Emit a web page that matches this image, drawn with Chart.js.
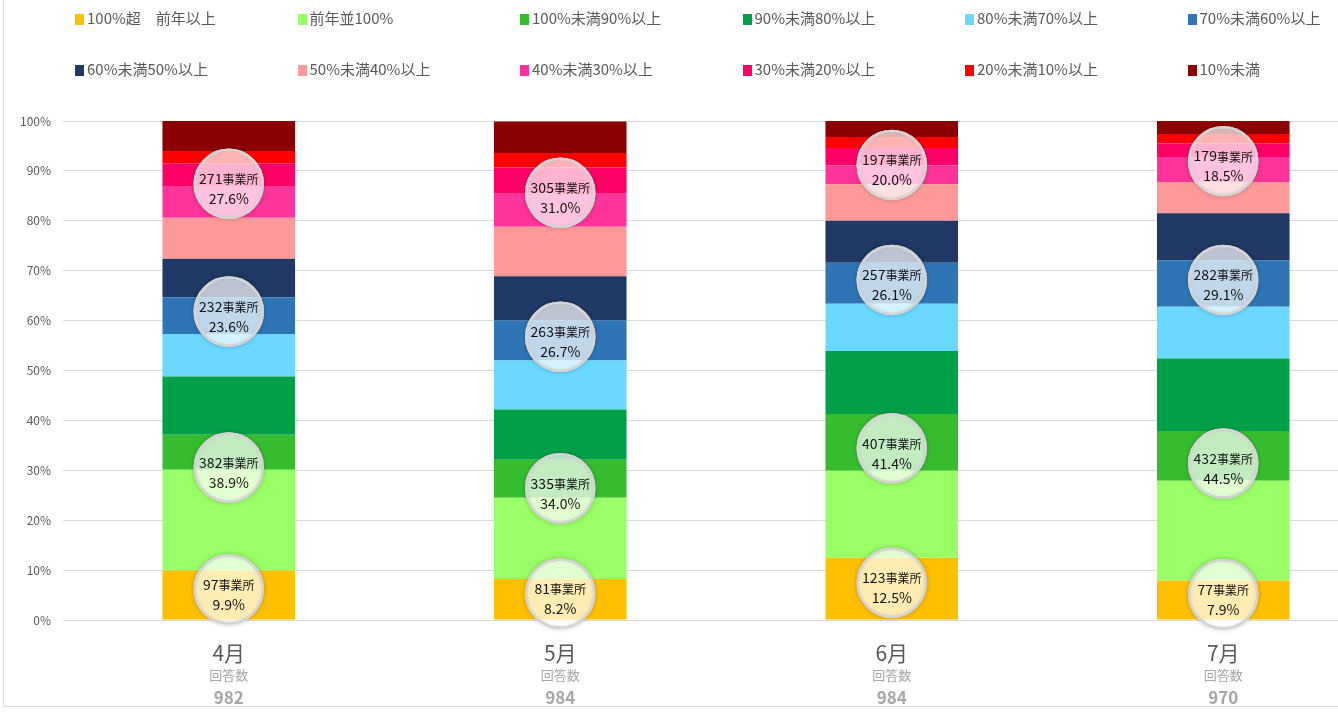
<!DOCTYPE html>
<html>
<head>
<meta charset="utf-8">
<script src="https://cdn.jsdelivr.net/npm/chart.js@4"></script>
<style>
  html, body { margin: 0; padding: 0; background: #fff; overflow: hidden; width: 1338px; height: 712px; }
  #frame { position: absolute; left: 3px; top: -1px; width: 1400px; height: 707px;
           border-left: 1px solid #d9d9d9; border-bottom: 1px solid #d9d9d9; }
  #wrap { position: absolute; left: 0; top: 0; width: 1400px; height: 712px; }
  #legend { position: absolute; left: 0; top: 0; width: 1338px; height: 100px;
            font-family: "Noto Sans CJK JP", "Noto Sans", sans-serif; font-size: 15px; color: #595959; }
  .item { position: absolute; white-space: nowrap; line-height: 20px; }
  .item span { display: inline-block; width: 9px; height: 11px; margin-right: 3px; vertical-align: -1px; }
</style>
</head>
<body>
<div id="frame"></div>
<div id="wrap"><canvas id="greatChart"></canvas></div>
<div id="legend"></div>
<script>
// categories and answer counts
const months = ['4月', '5月', '6月', '7月'];
const respondents = [982, 984, 984, 970];

// series (share of offices, %)
const seriesNames = [
    '100%超\u3000前年以上', '前年並100%', '100%未満90%以上', '90%未満80%以上',
    '80%未満70%以上', '70%未満60%以上', '60%未満50%以上', '50%未満40%以上',
    '40%未満30%以上', '30%未満20%以上', '20%未満10%以上', '10%未満'
];
const seriesColors = [
    '#FFC000', '#99FF66', '#36BD2F', '#00A048', '#6BD8FF', '#2E75B6',
    '#1F3864', '#FF9999', '#FF3399', '#FF0066', '#FF0000', '#8B0000'
];
const over100 = [9.9, 8.2, 12.5, 7.9];
const flat100 = [20.2, 16.3, 17.4, 20.0];
const pct90to100 = [7.0, 7.6, 11.4, 10.0];
const pct80to90 = [11.7, 10.1, 12.6, 14.5];
const pct70to80 = [8.5, 9.8, 9.5, 10.4];
const pct60to70 = [7.4, 8.0, 8.2, 9.3];
const pct50to60 = [7.7, 8.9, 8.4, 9.4];
const pct40to50 = [8.2, 9.9, 7.3, 6.3];
const pct30to40 = [6.2, 6.6, 3.8, 5.0];
const pct20to30 = [4.7, 5.3, 3.5, 2.7];
const pct10to20 = [2.5, 2.9, 2.2, 1.9];
const under10 = [6.0, 6.3, 3.2, 2.6];

// bubble label groups (series indices) and office counts per month
const bubbleGroups = [[0], [1, 2, 3], [4, 5, 6], [7, 8, 9, 10, 11]];
const groupCounts = [
    [97, 81, 123, 77],
    [382, 335, 407, 432],
    [232, 263, 257, 282],
    [271, 305, 197, 179]
];

const seriesValues = [over100, flat100, pct90to100, pct80to90, pct70to80, pct60to70,
    pct50to60, pct40to50, pct30to40, pct20to30, pct10to20, under10];

const FONT = '"Noto Sans CJK JP", "Noto Sans", sans-serif';

// legend: 2 rows x 6 columns
const legendEl = document.getElementById('legend');
seriesNames.forEach((name, i) => {
    const div = document.createElement('div');
    div.className = 'item';
    div.style.left = (75 + (i % 6) * 222.5) + 'px';
    div.style.top = (i < 6 ? 8 : 59) + 'px';
    div.innerHTML = '<span style="background:' + seriesColors[i] + '"></span>' + name;
    legendEl.appendChild(div);
});

const bubblePlugin = {
    id: 'bubbles',
    afterDatasetsDraw(chart) {
        const ctx = chart.ctx;
        const xs = chart.scales.x, ys = chart.scales.y;
        months.forEach((m, mi) => {
            let base = 0;
            bubbleGroups.forEach((grp, gi) => {
                let sum = 0;
                grp.forEach(si => { sum += seriesValues[si][mi]; });
                const cx = xs.getPixelForValue(mi);
                const cy = (ys.getPixelForValue(base) + ys.getPixelForValue(base + sum)) / 2 - 6;
                base += sum;
                ctx.save();
                // soft shadow only on the rim
                ctx.shadowColor = 'rgba(0,0,0,0.3)';
                ctx.shadowBlur = 4;
                ctx.beginPath();
                ctx.arc(cx, cy, 34, 0, Math.PI * 2);
                ctx.lineWidth = 2.5;
                ctx.strokeStyle = '#d4d4d4';
                ctx.stroke();
                ctx.shadowColor = 'transparent';
                ctx.beginPath();
                ctx.arc(cx, cy, 33, 0, Math.PI * 2);
                ctx.fillStyle = 'rgba(255,255,255,0.7)';
                ctx.fill();
                ctx.beginPath();
                ctx.arc(cx, cy, 34, 0, Math.PI * 2);
                ctx.stroke();
                // texts
                const cnt = groupCounts[gi][mi];
                const pct = (cnt / respondents[mi] * 100).toFixed(1) + '%';
                ctx.fillStyle = '#111';
                ctx.textBaseline = 'middle';
                ctx.font = '14px ' + FONT;
                const numW = ctx.measureText(String(cnt)).width;
                ctx.font = '12px ' + FONT;
                const unitW = ctx.measureText('事業所').width;
                let x0 = cx - (numW + unitW) / 2;
                ctx.textAlign = 'left';
                ctx.font = '14px ' + FONT;
                ctx.fillText(String(cnt), x0, cy - 5);
                ctx.font = '12px ' + FONT;
                ctx.fillText('事業所', x0 + numW, cy - 4);
                ctx.textAlign = 'center';
                ctx.font = '14px ' + FONT;
                ctx.fillText(pct, cx, cy + 15);
                ctx.restore();
            });
        });
    }
};

const monthLabelPlugin = {
    id: 'monthLabels',
    afterDraw(chart) {
        const ctx = chart.ctx;
        const xs = chart.scales.x;
        ctx.save();
        ctx.textAlign = 'center';
        ctx.textBaseline = 'middle';
        months.forEach((m, i) => {
            const x = xs.getPixelForValue(i);
            ctx.fillStyle = '#595959';
            ctx.font = '21px ' + FONT;
            ctx.fillText(m, x, 653);
            ctx.fillStyle = '#a6a6a6';
            ctx.font = '13px ' + FONT;
            ctx.fillText('回答数', x, 675);
            ctx.font = 'bold 17px ' + FONT;
            ctx.fillText(String(respondents[i]), x, 698);
        });
        ctx.restore();
    }
};

const dataToPlot = {
    labels: months,
    datasets: seriesNames.map((name, i) => ({
        label: name,
        data: seriesValues[i],
        backgroundColor: seriesColors[i],
        borderWidth: 0,
        barPercentage: 0.4,
        categoryPercentage: 1.0
    }))
};

const options = {
    responsive: false,
    animation: false,
    layout: { padding: { top: 121, left: 0, right: 0, bottom: 0 } },
    plugins: {
        legend: { display: false },
        tooltip: { enabled: false }
    },
    scales: {
        x: {
            stacked: true,
            grid: { display: false, drawTicks: false },
            border: { display: false },
            ticks: { display: false },
            afterFit: function (scale) { scale.height = 92; }
        },
        y: {
            stacked: true,
            min: 0,
            max: 100,
            grid: { color: '#d9d9d9', lineWidth: 1, drawTicks: false },
            border: { display: false },
            ticks: {
                stepSize: 10,
                padding: 12,
                color: '#595959',
                font: { family: FONT, size: 12 },
                callback: v => v + '%'
            },
            afterFit: function (scale) { scale.width = 63; }
        }
    }
};

const canvas = document.getElementById('greatChart');
canvas.width = 1389;
canvas.height = 712;
const chart = new Chart(canvas.getContext('2d'), {
    type: 'bar',
    data: dataToPlot,
    options: options,
    plugins: [bubblePlugin, monthLabelPlugin]
});
</script>
</body>
</html>
